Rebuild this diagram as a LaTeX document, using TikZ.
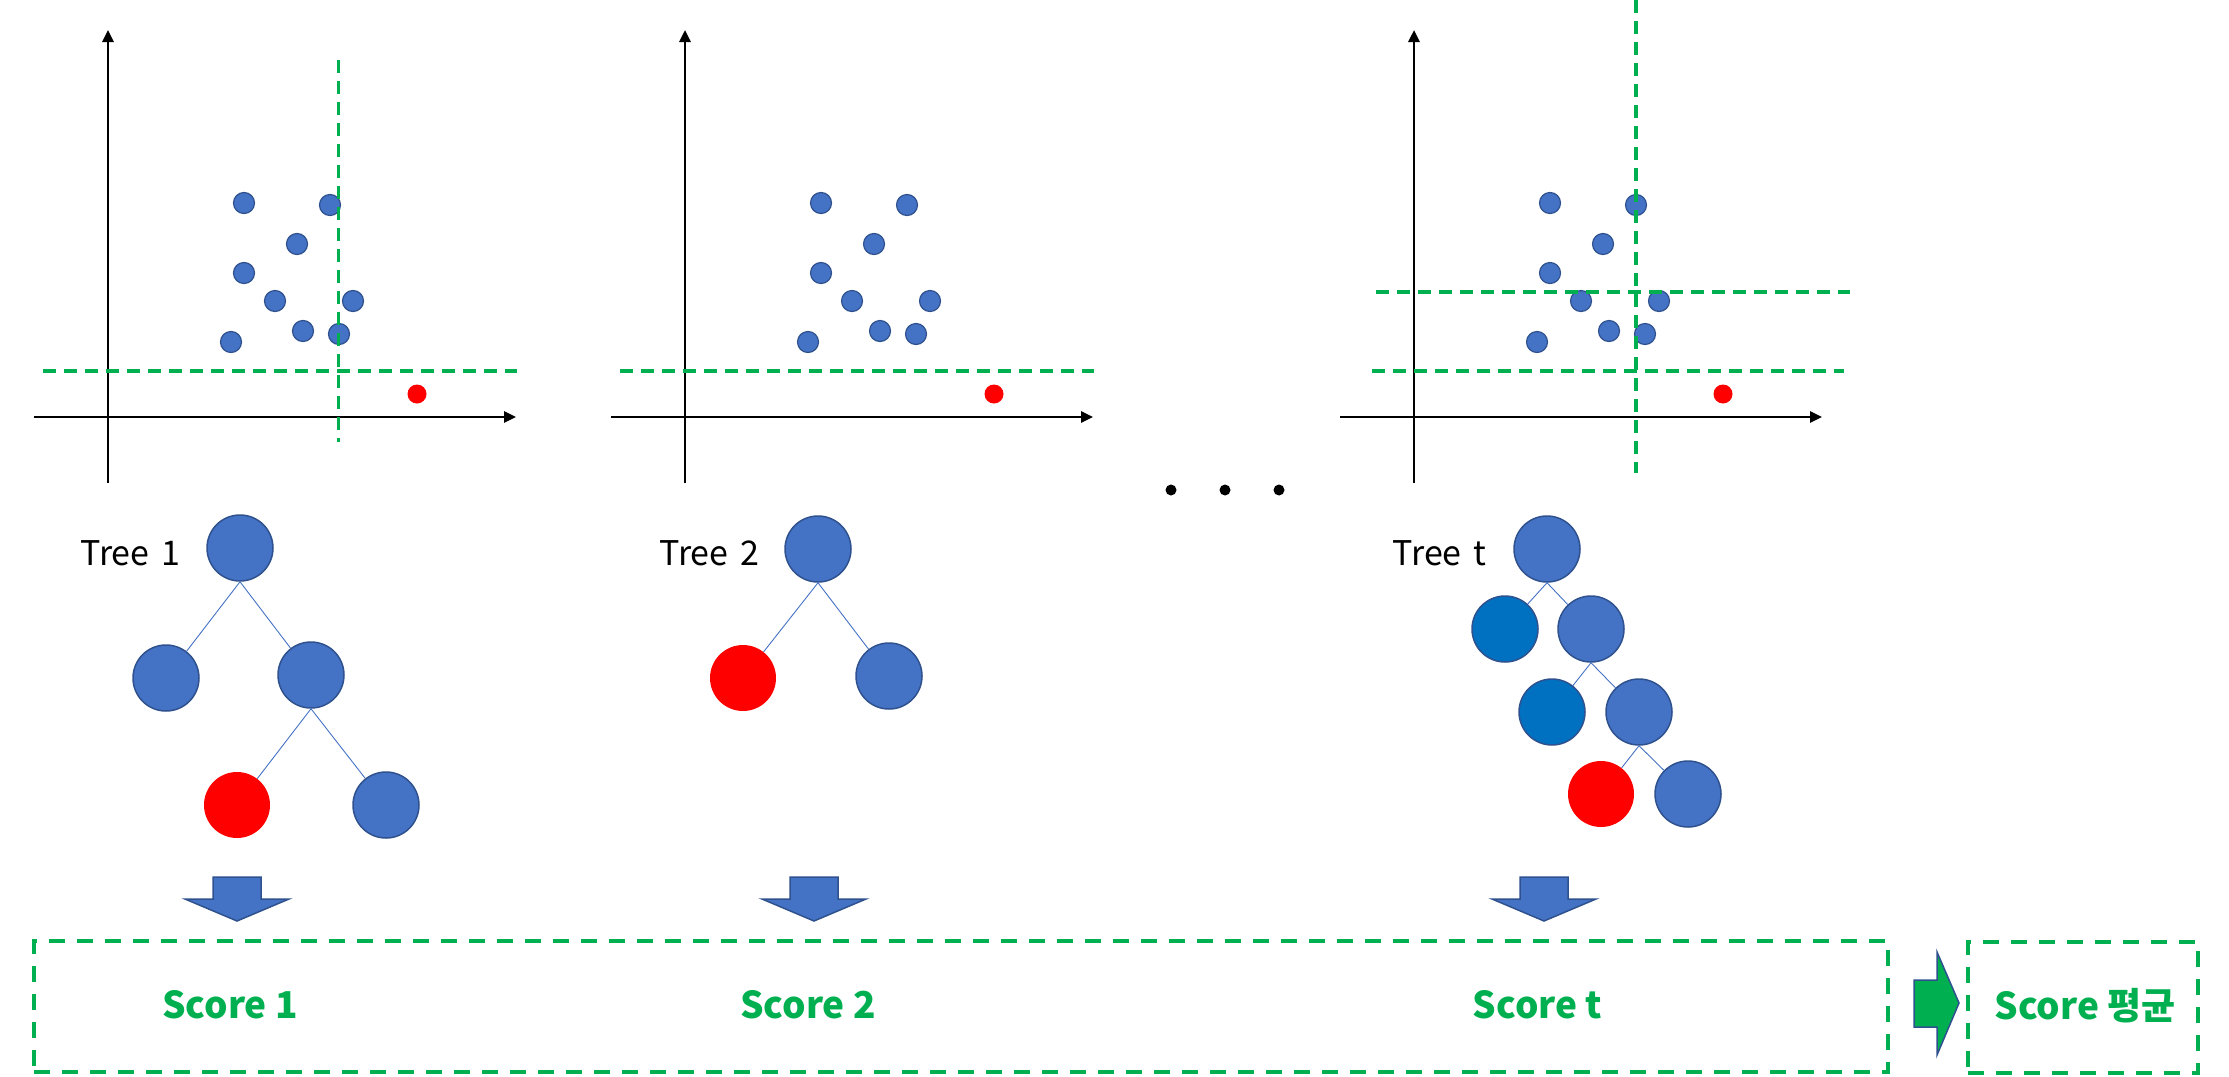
\documentclass[tikz,border=0pt]{standalone}
\usepackage{fontspec}
\setmainfont{Noto Sans CJK KR}
\usetikzlibrary{arrows.meta,positioning}

\definecolor{nodeblue}{HTML}{4472C4}
\definecolor{nodeline}{HTML}{2F528F}
\definecolor{deepblue}{HTML}{0070C0}
\definecolor{splitgreen}{HTML}{00B050}

\tikzset{
  pt/.style={circle,fill=nodeblue,draw=nodeline,line width=1.2pt,minimum size=21pt,inner sep=0pt},
  outlier/.style={circle,fill=red,minimum size=19pt,inner sep=0pt},
  leaf/.style={circle,fill=nodeblue,draw=nodeline,line width=1.5pt,minimum size=66pt,inner sep=0pt},
  deepleaf/.style={leaf,fill=deepblue},
  redleaf/.style={circle,fill=red,minimum size=66pt,inner sep=0pt},
  branch/.style={draw=nodeblue,line width=0.9pt},
  axis/.style={line width=2.7pt,-{Triangle[length=12pt,width=11pt]}},
  split/.style={draw=splitgreen,line width=3.2pt,dash pattern=on 12.5pt off 8.5pt},
  scorebox/.style={draw=splitgreen,line width=3.5pt,dash pattern=on 16pt off 12pt},
  score/.style={text=splitgreen,font=\fontsize{37}{40}\selectfont\bfseries},
  treelabel/.style={font=\fontsize{34}{38}\selectfont},
  blockarrow/.style={fill=nodeblue,draw=nodeline,line width=1.5pt}
}

\begin{document}
\begin{tikzpicture}[x=1pt,y=-1pt]
  \useasboundingbox (0,0) rectangle (2229,1076);

  \foreach \ox/\p in {108/a,685/b,1414/c} {
    \draw[axis] (\ox-74,417) -- (\ox+408,417);
    \draw[axis] (\ox,483) -- (\ox,30);
    \foreach \dx/\dy [count=\k] in {136/203,222/205,189/244,136/273,167/301,245/301,195/331,231/334,123/342}
      \node[pt] (dot-\p-\k) at (\ox+\dx,\dy) {};
    \node[outlier] (odd-\p) at (\ox+309,394) {};
  }

  \draw[split] (43,371) -- (517,371);
  \draw[split] (338.5,60) -- (338.5,442);
  \draw[split] (620,371) -- (1094,371);
  \draw[split] (1372,371) -- (1844,371);
  \draw[split] (1376,292) -- (1850,292);
  \draw[split] (1636,0) -- (1636,473);

  \foreach \x [count=\k] in {1171,1225,1279}
    \node[circle,fill=black,minimum size=11pt,inner sep=0pt] (more-\k) at (\x,490) {};

  \node[leaf] (t1-root) at (240,548) {};
  \node[leaf] (t1-l) at (166,678) {};
  \node[leaf] (t1-r) at (311,675) {};
  \node[redleaf] (t1-rl) at (237,805) {};
  \node[leaf] (t1-rr) at (386,805) {};
  \node[treelabel,anchor=base east] (lab-1) at (184,565) {Tree\hspace{12pt}1};
  \draw[branch] (t1-root.south) -- (t1-l);
  \draw[branch] (t1-root.south) -- (t1-r);
  \draw[branch] (t1-r.south) -- (t1-rl);
  \draw[branch] (t1-r.south) -- (t1-rr);

  \node[leaf] (t2-root) at (818,549) {};
  \node[redleaf] (t2-l) at (743,678) {};
  \node[leaf] (t2-r) at (889,676) {};
  \node[treelabel,anchor=base east] (lab-2) at (763,565) {Tree\hspace{12pt}2};
  \draw[branch] (t2-root.south) -- (t2-l);
  \draw[branch] (t2-root.south) -- (t2-r);

  \node[leaf] (tt-root) at (1547,549) {};
  \node[deepleaf] (tt-l) at (1505,629) {};
  \node[leaf] (tt-r) at (1591,629) {};
  \node[deepleaf] (tt-rl) at (1552,712) {};
  \node[leaf] (tt-rr) at (1639,712) {};
  \node[redleaf] (tt-rrl) at (1601,794) {};
  \node[leaf] (tt-rrr) at (1688,794) {};
  \node[treelabel,anchor=base east] (lab-t) at (1490,565) {Tree\hspace{12pt}t};
  \draw[branch] (tt-root.south) -- (tt-l);
  \draw[branch] (tt-root.south) -- (tt-r);
  \draw[branch] (tt-r.south) -- (tt-rl);
  \draw[branch] (tt-r.south) -- (tt-rr);
  \draw[branch] (tt-rr.south) -- (tt-rrl);
  \draw[branch] (tt-rr.south) -- (tt-rrr);

  \foreach \cx in {237,814,1544}
    \draw[blockarrow] (\cx-24,877) -- (\cx+24,877) -- (\cx+24,899) -- (\cx+52,899)
      -- (\cx,921) -- (\cx-52,899) -- (\cx-24,899) -- cycle;

  \node[scorebox,minimum width=1854pt,minimum height=131pt,inner sep=0pt] (all) at (961,1006.5) {};
  \node[score,anchor=base] (score-1) at (230,1018) {Score 1};
  \node[score,anchor=base] (score-2) at (808,1018) {Score 2};
  \node[score,anchor=base] (score-t) at (1537.5,1018) {Score t};

  \draw[blockarrow,fill=splitgreen] (1914,980) -- (1937,980) -- (1937,952) -- (1959,1003)
    -- (1937,1055) -- (1937,1027) -- (1914,1027) -- cycle;

  \node[scorebox,minimum width=230pt,minimum height=131pt,inner sep=0pt] (avg) at (2083,1007.5) {};
  \node[score,anchor=base] (score-avg) at (2085,1019) {Score 평균};
\end{tikzpicture}
\end{document}
